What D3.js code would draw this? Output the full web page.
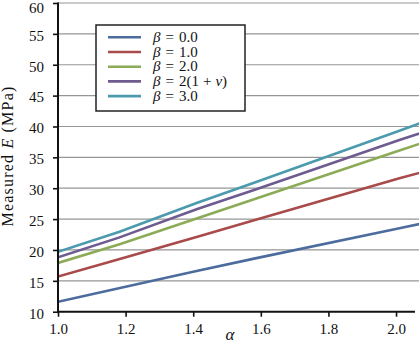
<!DOCTYPE html>
<html>
<head>
<meta charset="utf-8">
<script src="https://cdn.jsdelivr.net/npm/d3@7"></script>
<style>
  html, body { margin: 0; padding: 0; background: #fff; }
  svg { display: block; }
  text { font-family: "Liberation Serif", "DejaVu Serif", serif; fill: #111; }
</style>
</head>
<body>
<svg id="chart" width="420" height="344"></svg>
<script>
// ---- data ----
const alphaPoints = [1.0, 1.18, 1.41, 1.58, 2.01, 2.07];
const beta00 = [11.6, 13.8, 16.6, 18.6, 23.5, 24.2];
const beta10 = [15.7, 18.5, 22.1, 24.8, 31.6, 32.5];
const beta20 = [17.9, 20.9, 25.1, 28.2, 36.1, 37.2];
const betaNu = [18.8, 22.0, 26.6, 29.7, 37.8, 38.9];
const beta30 = [19.7, 22.9, 27.6, 30.9, 39.3, 40.5];
const seriesNames = ["0.0", "1.0", "2.0", "nu", "3.0"];
const seriesColors = ["#4d6c9e", "#a94a4b", "#8cab57", "#6e5b8f", "#4c9aae"];
const xTicks = [1.0, 1.2, 1.4, 1.6, 1.8, 2.0];
const yTicks = [10, 15, 20, 25, 30, 35, 40, 45, 50, 55, 60];

const seriesValues = [beta00, beta10, beta20, betaNu, beta30];

const svg = d3.select("#chart");
const pLeft = 58, pRight = 419.7, pTop = 3, pBottom = 311.7;

const x = d3.scaleLinear().domain([1.0, 2.07]).range([pLeft, pRight]);
const y = d3.scaleLinear().domain([10, 60]).range([pBottom, pTop]);

// clip
svg.append("defs").append("clipPath").attr("id", "plotclip")
  .append("rect").attr("x", pLeft).attr("y", pTop - 2).attr("width", 419 - pLeft).attr("height", pBottom - pTop + 4);

// gridlines
svg.append("g").selectAll("line").data(yTicks.filter(d => d > 10)).join("line")
  .attr("x1", pLeft).attr("x2", 419)
  .attr("y1", d => y(d)).attr("y2", d => y(d))
  .attr("stroke", "#969696").attr("stroke-width", 1.2);

// lines
const line = d3.line().x((d, i) => x(alphaPoints[i])).y(d => y(d));
svg.append("g").attr("clip-path", "url(#plotclip)")
  .selectAll("path").data(seriesValues).join("path")
  .attr("d", d => line(d))
  .attr("fill", "none")
  .attr("stroke", (d, i) => seriesColors[i])
  .attr("stroke-width", 2.6)
  .attr("stroke-linecap", "butt");

// y axis
const yAxis = svg.append("g").attr("transform", `translate(${pLeft},0)`)
  .call(d3.axisLeft(y).tickValues(yTicks).tickFormat(d3.format("d")).tickSize(5).tickPadding(9));
yAxis.select(".domain").remove();
yAxis.selectAll(".tick line").attr("stroke", "#111").attr("stroke-width", 1.6);
yAxis.selectAll(".tick text").style("font-size", "15px").style("font-family", "Liberation Serif, serif")
  .attr("fill", "#111").attr("dy", d => d === 60 ? "0.6em" : "0.42em");
svg.append("line").attr("x1", pLeft).attr("x2", pLeft).attr("y1", pTop - 0.5).attr("y2", pBottom + 1)
  .attr("stroke", "#111").attr("stroke-width", 2);

// x axis
const xAxis = svg.append("g").attr("transform", `translate(0,${pBottom})`)
  .call(d3.axisBottom(x).tickValues(xTicks).tickFormat(d3.format(".1f")).tickSize(5).tickPadding(7));
xAxis.select(".domain").remove();
xAxis.selectAll(".tick line").attr("stroke", "#111").attr("stroke-width", 1.6);
xAxis.selectAll(".tick text").style("font-size", "15px").style("font-family", "Liberation Serif, serif").attr("fill", "#111");
svg.append("line").attr("x1", pLeft - 1).attr("x2", x(2.056)).attr("y1", pBottom).attr("y2", pBottom)
  .attr("stroke", "#111").attr("stroke-width", 2);

// axis labels
const yl = svg.append("text").attr("transform", "translate(13,156) rotate(-90)")
  .attr("text-anchor", "middle").style("font-size", "16px").style("letter-spacing", "1.2px");
yl.append("tspan").text("Measured ");
yl.append("tspan").attr("font-style", "italic").text("E");
yl.append("tspan").text(" (MPa)");

svg.append("text").attr("x", 230).attr("y", 340).attr("text-anchor", "middle")
  .attr("font-style", "italic").style("font-size", "17px").text("α");

// legend
const lg = svg.append("g");
lg.append("rect").attr("x", 96).attr("y", 25).attr("width", 149).attr("height", 86)
  .attr("fill", "#fff").attr("stroke", "#222").attr("stroke-width", 1.5);
const rowY = [37.3, 52, 66.7, 81.4, 96.1];
seriesNames.forEach((name, i) => {
  lg.append("line").attr("x1", 108).attr("x2", 141).attr("y1", rowY[i]).attr("y2", rowY[i])
    .attr("stroke", seriesColors[i]).attr("stroke-width", 2.6);
  const t = lg.append("text").attr("x", 153).attr("y", rowY[i] + 4.5).style("font-size", "15px");
  t.append("tspan").attr("font-style", "italic").text("β");
  t.append("tspan").attr("dx", 5).text("=");
  if (name === "nu") {
    t.append("tspan").attr("dx", 5).text("2(1");
    t.append("tspan").attr("dx", 4).text("+");
    t.append("tspan").attr("dx", 4).attr("font-style", "italic").text("ν");
    t.append("tspan").text(")");
  } else {
    t.append("tspan").attr("dx", 5).text(name);
  }
});
</script>
</body>
</html>
